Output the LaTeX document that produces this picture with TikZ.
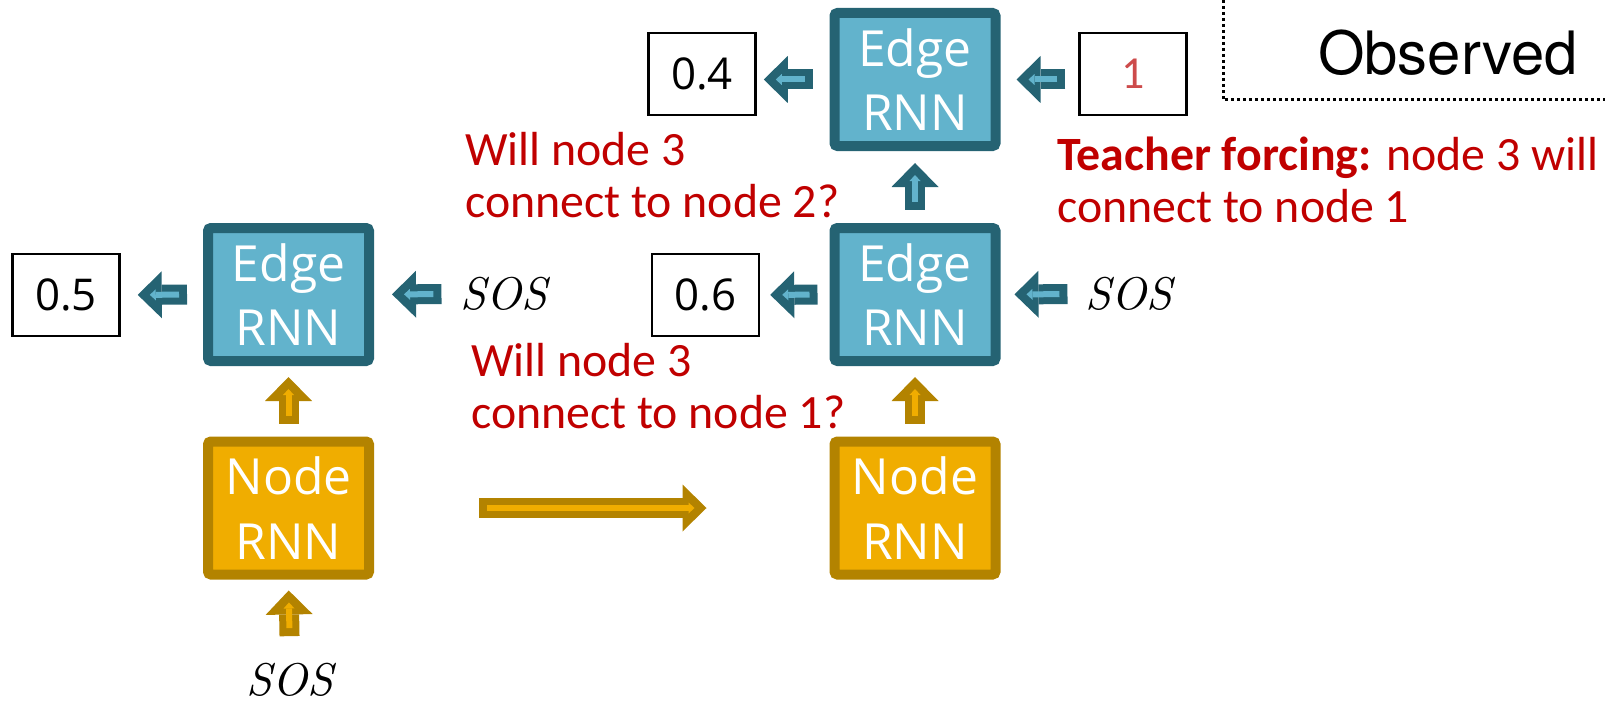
\documentclass[tikz,border=0pt]{standalone}
\usepackage{fontspec}
\setmainfont{Carlito}
\newfontfamily\boxfont{Open Sans}
\newfontfamily\obsfont{TeX Gyre Heros}
\newfontfamily\sosfont{lmroman10-italic.otf}
\usetikzlibrary{arrows.meta}
\definecolor{edgedark}{HTML}{256373}
\definecolor{edgelight}{HTML}{62B3CC}
\definecolor{nodedark}{HTML}{B38300}
\definecolor{nodelight}{HTML}{F0AD00}
\definecolor{redtxt}{HTML}{C00000}
\definecolor{onetxt}{HTML}{CD4B4B}
\tikzset{
  rnnbox/.style={line width=10bp, rounded corners=3bp, minimum width=161bp, minimum height=133bp,
    inner sep=0pt, text=white, align=center, font=\boxfont\fontsize{50}{65}\selectfont},
  edgebox/.style={rnnbox, draw=edgedark, fill=edgelight},
  nodebox/.style={rnnbox, draw=nodedark, fill=nodelight},
  probbox/.style={draw, line width=2.5bp, minimum width=107bp, minimum height=82bp,
    inner sep=0pt, font=\boxfont\fontsize{44}{50}\selectfont},
  question/.style={text=redtxt, align=left, inner sep=0pt, anchor=base west,
    font=\fontsize{48}{52}\selectfont},
  sostxt/.style={inner sep=0pt, font=\sosfont\fontsize{46}{50}\selectfont},
  edgearrow/.style 2 args={draw=edgedark, line width=20bp,
    -{Triangle[length=24bp,width=47bp,line width=0pt]}, shorten <=#1, shorten >=#2},
  edgeinner/.style 2 args={draw=edgelight, line width=6bp,
    -{Triangle[length=6bp,width=11bp,line width=0pt]}, shorten <=#1+8bp, shorten >=#2+12bp},
  nodearrow/.style 2 args={edgearrow={#1}{#2}, draw=nodedark},
  nodeinner/.style 2 args={edgeinner={#1}{#2}, draw=nodelight},
  dotline/.style={line width=3bp, dash pattern=on 3bp off 3bp}
}
\begin{document}
\begin{tikzpicture}[x=1bp, y=-1bp]
\useasboundingbox (0,0) rectangle (1605,705);

\node[edgebox] (edge1) at (288.5,294.5) {Edge\\RNN};
\node[nodebox] (node1) at (288.5,508) {Node\\RNN};
\node[edgebox] (edge2) at (915,294.5) {Edge\\RNN};
\node[edgebox] (edge3) at (915,79.5) {Edge\\RNN};
\node[nodebox] (node2) at (915,508) {Node\\RNN};

\node[probbox] (val05) at (66,295) {0.5};
\node[probbox] (val06) at (705.5,295) {0.6};
\node[probbox] (val04) at (702,74) {0.4};
\node[probbox, text=onetxt, font=\fontsize{46}{50}\selectfont] (val1) at (1133,74) {1};

\node[sostxt] (sos1) at (504,294) {SOS};
\node[sostxt] (sos2) at (1129,294) {SOS};
\node[sostxt] (sos3) at (290,680) {SOS};

\node[question] (q2) at (465,217) {Will node 3\\connect to node 2?};
\node[question] (q1) at (471,428) {Will node 3\\connect to node 1?};
\node[question] (force) at (1057,222) {\textbf{Teacher forcing:} node 3 will\\connect to node 1};

\draw[dotline] (1223,0) -- (1223,100) -- (1605,100);
\node[inner sep=0pt, anchor=base west, font=\obsfont\fontsize{60}{60}\selectfont] (obs) at (1318,75) {Observed};

\draw[edgearrow={16bp}{17bp}] (edge1.west) -- (val05.east);
\draw[edgeinner={16bp}{17bp}] (edge1.west) -- (val05.east);
\draw[edgearrow={19bp}{18bp}] (sos1.west) -- (edge1.east);
\draw[edgeinner={19bp}{18bp}] (sos1.west) -- (edge1.east);
\draw[edgearrow={12bp}{10bp}] (edge2.west) -- (val06.east);
\draw[edgeinner={12bp}{10bp}] (edge2.west) -- (val06.east);
\draw[edgearrow={18bp}{14bp}] (sos2.west) -- (edge2.east);
\draw[edgeinner={18bp}{14bp}] (sos2.west) -- (edge2.east);
\draw[edgearrow={17bp}{7bp}] (edge3.west) -- (edge3.west -| val04.east);
\draw[edgeinner={17bp}{7bp}] (edge3.west) -- (edge3.west -| val04.east);
\draw[edgearrow={13bp}{16bp}] (edge3.east -| val1.west) -- (edge3.east);
\draw[edgeinner={13bp}{16bp}] (edge3.east -| val1.west) -- (edge3.east);
\draw[edgearrow={13bp}{12bp}] (edge2.north) -- (edge3.south);
\draw[edgeinner={13bp}{12bp}] (edge2.north) -- (edge3.south);

\draw[nodearrow={13bp}{11bp}] (node1.north) -- (edge1.south);
\draw[nodeinner={13bp}{11bp}] (node1.north) -- (edge1.south);
\draw[nodearrow={27bp}{11bp}] (sos3.north) -- (node1.south);
\draw[nodeinner={27bp}{11bp}] (sos3.north) -- (node1.south);
\draw[nodearrow={13bp}{11bp}] (node2.north) -- (edge2.south);
\draw[nodeinner={13bp}{11bp}] (node2.north) -- (edge2.south);
\draw[nodearrow={105bp}{123bp}] (node1.east) -- (node2.west);
\draw[nodeinner={105bp}{123bp}] (node1.east) -- (node2.west);
\end{tikzpicture}
\end{document}
